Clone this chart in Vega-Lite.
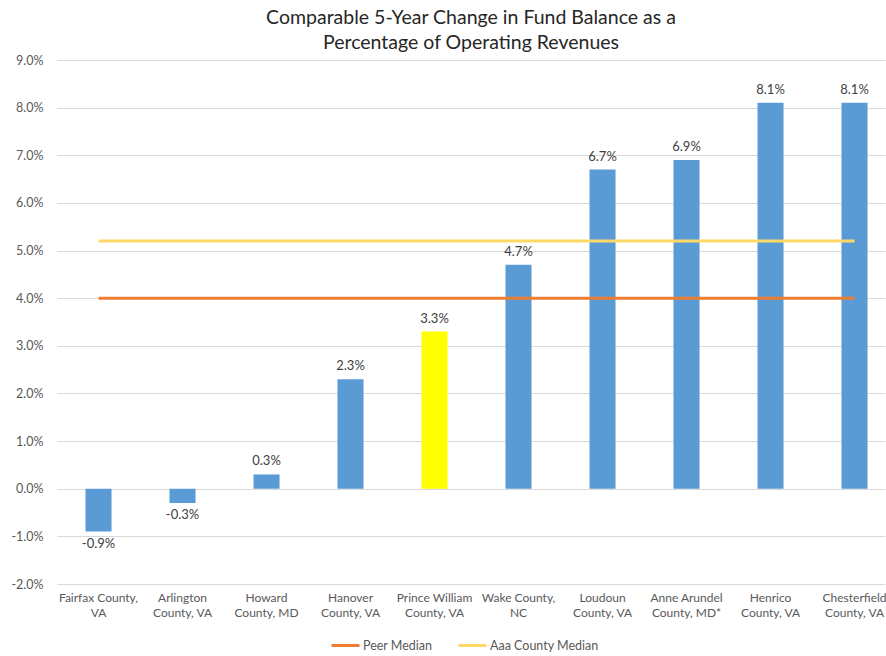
{
  "$schema": "https://vega.github.io/schema/vega-lite/v6.json",
  "width": 828,
  "height": 524,
  "autosize": {"type": "none"},
  "padding": {"left": 57, "top": 60, "right": 1, "bottom": 72},
  "background": "white",
  "config": {
    "font": "Lato",
    "view": {"stroke": null}
  },
  "title": {
    "text": ["Comparable 5-Year Change in Fund Balance as a", "Percentage of Operating Revenues"],
    "fontSize": 19.5,
    "fontWeight": "normal",
    "font": "Lato",
    "color": "#262626",
    "lineHeight": 25,
    "anchor": "middle",
    "offset": 1
  },
  "datasets": {
    "bars": [
      {"county": "Fairfax County,|VA", "value": -0.009},
      {"county": "Arlington|County, VA", "value": -0.003},
      {"county": "Howard|County, MD", "value": 0.003},
      {"county": "Hanover|County, VA", "value": 0.023},
      {"county": "Prince William|County, VA", "value": 0.033},
      {"county": "Wake County,|NC", "value": 0.047},
      {"county": "Loudoun|County, VA", "value": 0.067},
      {"county": "Anne Arundel|County, MD*", "value": 0.069},
      {"county": "Henrico|County, VA", "value": 0.081},
      {"county": "Chesterfield|County, VA", "value": 0.081}
    ],
    "medians": [
      {"county": "Fairfax County,|VA", "series": "Peer Median", "value": 0.04},
      {"county": "Arlington|County, VA", "series": "Peer Median", "value": 0.04},
      {"county": "Howard|County, MD", "series": "Peer Median", "value": 0.04},
      {"county": "Hanover|County, VA", "series": "Peer Median", "value": 0.04},
      {"county": "Prince William|County, VA", "series": "Peer Median", "value": 0.04},
      {"county": "Wake County,|NC", "series": "Peer Median", "value": 0.04},
      {"county": "Loudoun|County, VA", "series": "Peer Median", "value": 0.04},
      {"county": "Anne Arundel|County, MD*", "series": "Peer Median", "value": 0.04},
      {"county": "Henrico|County, VA", "series": "Peer Median", "value": 0.04},
      {"county": "Chesterfield|County, VA", "series": "Peer Median", "value": 0.04},
      {"county": "Fairfax County,|VA", "series": "Aaa County Median", "value": 0.052},
      {"county": "Arlington|County, VA", "series": "Aaa County Median", "value": 0.052},
      {"county": "Howard|County, MD", "series": "Aaa County Median", "value": 0.052},
      {"county": "Hanover|County, VA", "series": "Aaa County Median", "value": 0.052},
      {"county": "Prince William|County, VA", "series": "Aaa County Median", "value": 0.052},
      {"county": "Wake County,|NC", "series": "Aaa County Median", "value": 0.052},
      {"county": "Loudoun|County, VA", "series": "Aaa County Median", "value": 0.052},
      {"county": "Anne Arundel|County, MD*", "series": "Aaa County Median", "value": 0.052},
      {"county": "Henrico|County, VA", "series": "Aaa County Median", "value": 0.052},
      {"county": "Chesterfield|County, VA", "series": "Aaa County Median", "value": 0.052}
    ]
  },
  "encoding": {
    "x": {
      "field": "county",
      "type": "nominal",
      "sort": null,
      "scale": {
        "domain": ["Fairfax County,|VA", "Arlington|County, VA", "Howard|County, MD", "Hanover|County, VA", "Prince William|County, VA", "Wake County,|NC", "Loudoun|County, VA", "Anne Arundel|County, MD*", "Henrico|County, VA", "Chesterfield|County, VA"],
        "paddingInner": 0.69,
        "paddingOuter": 0.2735,
        "align": 0.62
      },
      "axis": {
        "title": null,
        "labelAngle": 0,
        "labelExpr": "split(datum.label, '|')",
        "labelFontSize": 12,
        "labelColor": "#595959",
        "labelLineHeight": 15,
        "labelPadding": 8,
        "labelBaseline": "top",
        "labelBound": false,
        "domain": false,
        "ticks": false,
        "grid": false
      }
    },
    "y": {
      "field": "value",
      "type": "quantitative",
      "scale": {"domain": [-0.02, 0.09], "nice": false, "zero": false},
      "axis": {
        "title": null,
        "values": [-0.02, -0.01, 0, 0.01, 0.02, 0.03, 0.04, 0.05, 0.06, 0.07, 0.08, 0.09],
        "format": ".1%",
        "labelExpr": "replace(datum.label, '\u2212', '-')",
        "labelFontSize": 12.5,
        "labelColor": "#595959",
        "labelPadding": 14,
        "domain": false,
        "ticks": false,
        "grid": true,
        "gridColor": "#D9D9D9",
        "gridWidth": 1
      }
    }
  },
  "layer": [
    {
      "data": {"name": "bars"},
      "mark": {"type": "bar"},
      "encoding": {
        "color": {
          "condition": {"test": "indexof(datum.county, 'Prince William') >= 0", "value": "#FFFF00"},
          "value": "#5B9BD5"
        }
      }
    },
    {
      "data": {"name": "bars"},
      "transform": [
        {"filter": "datum.value >= 0"},
        {"calculate": "replace(format(datum.value, '.1%'), '\u2212', '-')", "as": "label"}
      ],
      "mark": {"type": "text", "baseline": "bottom", "dy": -6, "fontSize": 13, "color": "#404040"},
      "encoding": {"text": {"field": "label"}}
    },
    {
      "data": {"name": "bars"},
      "transform": [
        {"filter": "datum.value < 0"},
        {"calculate": "replace(format(datum.value, '.1%'), '\u2212', '-')", "as": "label"}
      ],
      "mark": {"type": "text", "baseline": "top", "dy": 6, "fontSize": 13, "color": "#404040"},
      "encoding": {"text": {"field": "label"}}
    },
    {
      "data": {"name": "medians"},
      "mark": {"type": "line", "strokeWidth": 3},
      "encoding": {
        "color": {
          "field": "series",
          "type": "nominal",
          "scale": {"domain": ["Peer Median", "Aaa County Median"], "range": ["#ED7D31", "#FFD966"]},
          "legend": {
            "title": null,
            "orient": "none",
            "legendX": 273,
            "legendY": 570,
            "direction": "horizontal",
            "symbolType": "stroke",
            "symbolSize": 784,
            "symbolStrokeWidth": 3,
            "labelFontSize": 12.5,
            "labelColor": "#595959",
            "labelOffset": 2,
            "columnPadding": 19
          }
        }
      }
    }
  ]
}
